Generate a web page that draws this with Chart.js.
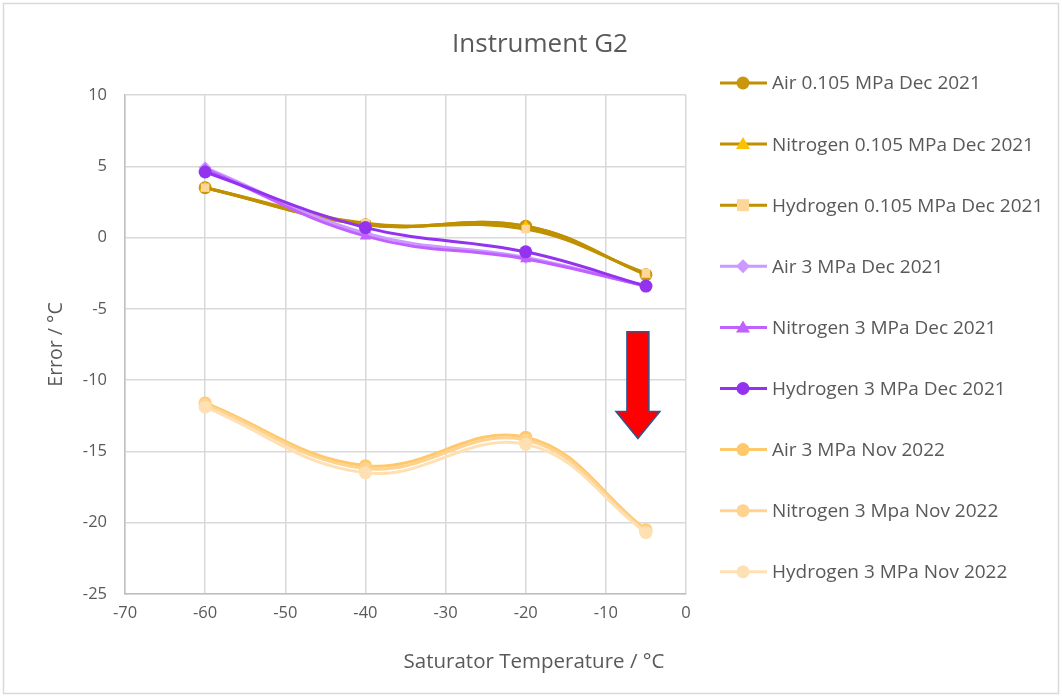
<!DOCTYPE html>
<html>
<head>
<meta charset="utf-8">
<script src="https://cdn.jsdelivr.net/npm/chart.js@4.4.0/dist/chart.umd.min.js"></script>
<style>
    body { margin: 0; background: #fff; }
</style>
</head>
<body>
<canvas id="g2Chart" width="1062" height="697"></canvas>
<script>
// Saturator temperatures (x)
var temps = [-60, -40, -20, -5];

// Errors
var air105Dec21 = [3.5, 0.9, 0.8, -2.6];
var nit105Dec21 = [3.5, 0.9, 0.8, -2.6];
var hyd105Dec21 = [3.5, 1.0, 0.6, -2.5];
var air3Dec21 = [4.9, 0.3, -1.4, -3.4];
var nit3Dec21 = [4.8, 0.1, -1.5, -3.4];
var hyd3Dec21 = [4.6, 0.7, -1.0, -3.4];
var air3Nov22 = [-11.6, -16.0, -14.0, -20.5];
var nit3Nov22 = [-11.7, -16.2, -14.2, -20.6];
var hyd3Nov22 = [-11.9, -16.5, -14.5, -20.7];

var seriesNames = [
    'Air 0.105 MPa Dec 2021',
    'Nitrogen 0.105 MPa Dec 2021',
    'Hydrogen 0.105 MPa Dec 2021',
    'Air 3 MPa Dec 2021',
    'Nitrogen 3 MPa Dec 2021',
    'Hydrogen 3 MPa Dec 2021',
    'Air 3 MPa Nov 2022',
    'Nitrogen 3 Mpa Nov 2022',
    'Hydrogen 3 MPa Nov 2022'
];
var seriesValues = [air105Dec21, nit105Dec21, hyd105Dec21, air3Dec21, nit3Dec21, hyd3Dec21, air3Nov22, nit3Nov22, hyd3Nov22];
var lineColors = ['#BF9000', '#BF9000', '#BF9000', '#CC99FF', '#BF60FF', '#9333F0', '#FFC96B', '#FFD38F', '#FFE0B3'];
var markerColors = ['#C9960C', '#FFC000', '#FFD699', '#CC99FF', '#BF60FF', '#9333F0', '#FFC96B', '#FFD38F', '#FFE0B3'];
var markerStyles = ['circle', 'triangle', 'rect', 'rectRot', 'triangle', 'circle', 'circle', 'circle', 'circle'];

// the red arrow (data coordinates)
var arrowX = -6;
var arrowTop = -6.6;
var arrowTip = -14.1;

var FONT = '"Open Sans", Lato, sans-serif';
var GREY = '#595959';

var datasets = seriesNames.map(function (name, i) {
    return {
        label: name,
        data: temps.map(function (t, j) { return { x: t, y: seriesValues[i][j] }; }),
        borderColor: lineColors[i],
        backgroundColor: markerColors[i],
        borderWidth: 3,
        pointStyle: markerStyles[i],
        pointRadius: markerStyles[i] === 'rect' ? 6 : 6.5,
        pointBorderWidth: 0,
        tension: 0.4,
        order: 9 - i
    };
});

// frame, titles, red arrow and legend
var extras = {
    id: 'extras',
    beforeDraw: function (chart) {
        var ctx = chart.ctx;
        ctx.save();
        ctx.fillStyle = '#fff';
        ctx.fillRect(0, 0, chart.width, chart.height);
        ctx.strokeStyle = '#D9D9D9';
        ctx.lineWidth = 1.5;
        ctx.strokeRect(3.5, 3.5, chart.width - 7, chart.height - 7);
        ctx.fillStyle = GREY;
        ctx.textAlign = 'center';
        ctx.textBaseline = 'middle';
        ctx.font = '26px ' + FONT;
        ctx.fillText('Instrument G2', 540, 45);
        ctx.font = '20.5px ' + FONT;
        ctx.fillText('Saturator Temperature / °C', 534, 662);
        ctx.restore();
    },
    afterDatasetsDraw: function (chart) {
        var ctx = chart.ctx;
        var xs = chart.scales.x, ys = chart.scales.y;
        var cx = xs.getPixelForValue(arrowX);
        var top = ys.getPixelForValue(arrowTop);
        var tip = ys.getPixelForValue(arrowTip);
        var headY = tip - 27;
        ctx.save();
        ctx.beginPath();
        ctx.moveTo(cx - 11, top);
        ctx.lineTo(cx + 11, top);
        ctx.lineTo(cx + 11, headY);
        ctx.lineTo(cx + 22, headY);
        ctx.lineTo(cx, tip);
        ctx.lineTo(cx - 22, headY);
        ctx.lineTo(cx - 11, headY);
        ctx.closePath();
        ctx.fillStyle = '#FF0000';
        ctx.fill();
        ctx.strokeStyle = '#2F5597';
        ctx.lineWidth = 1.5;
        ctx.stroke();
        ctx.restore();
    },
    afterDraw: function (chart) {
        var ctx = chart.ctx;
        ctx.save();
        chart.data.datasets.forEach(function (ds, i) {
            var y = 83 + i * 61.1;
            ctx.strokeStyle = ds.borderColor;
            ctx.lineWidth = 3;
            ctx.beginPath();
            ctx.moveTo(720, y);
            ctx.lineTo(767, y);
            ctx.stroke();
            ctx.fillStyle = ds.backgroundColor;
            ctx.beginPath();
            if (ds.pointStyle === 'circle') {
                ctx.arc(743, y, 6.5, 0, Math.PI * 2);
            } else if (ds.pointStyle === 'triangle') {
                ctx.moveTo(743, y - 7);
                ctx.lineTo(750, y + 5);
                ctx.lineTo(736, y + 5);
            } else if (ds.pointStyle === 'rect') {
                ctx.rect(737, y - 6, 12, 12);
            } else {
                ctx.moveTo(743, y - 7);
                ctx.lineTo(750, y);
                ctx.lineTo(743, y + 7);
                ctx.lineTo(736, y);
            }
            ctx.fill();
            ctx.fillStyle = GREY;
            ctx.font = '19px ' + FONT;
            ctx.textBaseline = 'middle';
            ctx.textAlign = 'left';
            ctx.fillText(ds.label, 772, y + 1);
        });
        ctx.restore();
    }
};

var ctx = document.getElementById('g2Chart').getContext('2d');
var g2Chart = new Chart(ctx, {
    type: 'line',
    data: { datasets: datasets },
    plugins: [extras],
    options: {
        responsive: false,
        animation: false,
        layout: { padding: { left: 45, right: 376, top: 95, bottom: 22 } },
        plugins: {
            legend: { display: false },
            tooltip: { enabled: false },
            title: { display: false }
        },
        scales: {
            x: {
                type: 'linear',
                min: -70,
                max: 0,
                ticks: {
                    stepSize: 10,
                    color: GREY,
                    font: { family: FONT, size: 16.5 },
                    padding: 9
                },
                grid: { color: '#D9D9D9', lineWidth: 1.5, drawTicks: false },
                border: { color: '#BFBFBF', width: 1.5 },
                afterFit: function (scale) { scale.height = 81; }
            },
            y: {
                min: -25,
                max: 10,
                ticks: {
                    stepSize: 5,
                    color: GREY,
                    font: { family: FONT, size: 16.5 },
                    padding: 18
                },
                grid: { color: '#D9D9D9', lineWidth: 1.5, drawTicks: false },
                border: { color: '#BFBFBF', width: 1.5 },
                title: {
                    display: true,
                    text: 'Error / °C',
                    color: GREY,
                    font: { family: FONT, size: 19.5 },
                    padding: 0
                },
                afterFit: function (scale) { scale.width = 80; }
            }
        }
    }
});
</script>
</body>
</html>
